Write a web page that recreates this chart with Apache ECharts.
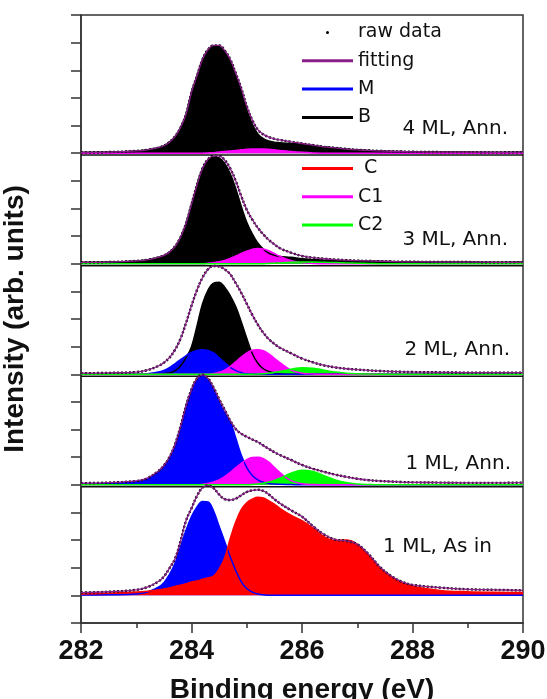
<!DOCTYPE html>
<html>
<head>
<meta charset="utf-8">
<script src="https://cdn.jsdelivr.net/npm/echarts@6/dist/echarts.min.js"></script>
<style>
  html, body { margin: 0; padding: 0; background: #fff; }
  #chart { width: 547px; height: 699px; }
</style>
</head>
<body>
<div id="chart"></div>
<script>
// binding energy grid (eV), denser around the peaks
const energy = [282.0, 282.5, 283.0, 283.2, 283.4, 283.5, 283.6, 283.7, 283.8, 283.9,
  284.0, 284.1, 284.2, 284.3, 284.4, 284.5, 284.6, 284.7, 284.8, 284.9,
  285.0, 285.1, 285.2, 285.3, 285.4, 285.5, 285.6, 285.8, 286.0, 286.2,
  286.4, 286.6, 286.8, 287.0, 287.2, 287.4, 287.6, 287.8, 288.0, 288.5,
  289.0, 289.5, 290.0];

// intensities in tick units above each panel's baseline
// 4 ML, Ann.
const fit4 = [0.03,0.04,0.08,0.12,0.2, 0.27,0.4,0.6,0.92,1.4, 2.2,2.8,3.4,3.75,3.9, 3.9,3.72,3.4,2.9,2.35, 1.7,1.2,0.85,0.68,0.58, 0.52,0.48,0.41,0.35,0.29, 0.23,0.19,0.15,0.12,0.1, 0.08,0.07,0.06,0.05,0.04, 0.04,0.03,0.04];
const b4 = [0.03,0.04,0.08,0.12,0.2, 0.27,0.4,0.6,0.92,1.4, 2.2,2.8,3.4,3.74,3.88, 3.86,3.66,3.32,2.8,2.23, 1.56,1.05,0.7,0.53,0.44, 0.4,0.38,0.35,0.32,0.28, 0.23,0.19,0.15,0.12,0.1, 0.08,0.07,0.06,0.05,0.04, 0.04,0.03,0.04];
const c1_4 = [0,0,0,0,0, 0,0,0,0,0, 0,0,0,0.01,0.02, 0.04,0.06,0.08,0.1,0.12, 0.14,0.15,0.15,0.15,0.14, 0.12,0.1,0.06,0.03,0.01, 0,0,0,0,0, 0,0,0,0,0, 0,0,0];
// 3 ML, Ann.
const fit3 = [0.05,0.06,0.1,0.14,0.23, 0.3,0.42,0.62,0.95,1.45, 2.15,2.85,3.45,3.78,3.9, 3.9,3.75,3.45,3.0,2.45, 1.95,1.6,1.3,1.06,0.86, 0.7,0.56,0.4,0.28,0.22, 0.18,0.15,0.13,0.11,0.1, 0.09,0.08,0.07,0.07,0.06, 0.06,0.05,0.06];
const b3 = [0.05,0.06,0.1,0.14,0.23, 0.3,0.42,0.62,0.95,1.45, 2.15,2.85,3.45,3.76,3.86, 3.83,3.63,3.26,2.72,2.08, 1.5,1.08,0.75,0.53,0.38, 0.31,0.26,0.23,0.18,0.15, 0.13,0.11,0.1,0.09,0.09, 0.09,0.08,0.07,0.07,0.06, 0.06,0.05,0.06];
const c1_3 = [0,0,0,0,0, 0,0,0,0,0, 0,0,0,0.02,0.04, 0.07,0.12,0.19,0.28,0.37, 0.45,0.52,0.55,0.53,0.47, 0.37,0.27,0.12,0.04,0.01, 0,0,0,0,0, 0,0,0,0,0, 0,0,0];
const c2_3 = [0,0,0,0,0, 0,0,0,0,0, 0,0,0,0,0, 0,0,0,0,0, 0,0,0,0,0.01, 0.02,0.03,0.05,0.06,0.06, 0.05,0.04,0.03,0.02,0.01, 0,0,0,0,0, 0,0,0];
// 2 ML, Ann.
const fit2 = [0.04,0.05,0.08,0.15,0.3, 0.42,0.6,0.88,1.28,1.85, 2.48,3.05,3.5,3.8,3.92, 3.9,3.8,3.62,3.3,2.95, 2.55,2.15,1.8,1.5,1.27, 1.1,0.96,0.76,0.57,0.43, 0.32,0.25,0.2,0.17,0.14, 0.12,0.1,0.09,0.08,0.07, 0.06,0.06,0.06];
const b2 = [0,0,0,0,0, 0.02,0.05,0.12,0.3,0.6, 1.0,1.75,2.55,3.05,3.3, 3.33,3.15,2.85,2.45,1.9, 1.3,0.75,0.4,0.2,0.1, 0.05,0.02,0,0,0, 0,0,0,0,0, 0,0,0,0,0, 0,0,0];
const m2 = [0,0,0,0.02,0.08, 0.14,0.24,0.38,0.53,0.67, 0.79,0.86,0.89,0.86,0.77, 0.6,0.42,0.25,0.13,0.06, 0.02,0.01,0,0,0, 0,0,0,0,0, 0,0,0,0,0, 0,0,0,0,0, 0,0,0];
const c1_2 = [0,0,0,0,0, 0,0,0,0,0, 0,0,0,0,0.03, 0.07,0.15,0.28,0.45,0.62, 0.77,0.87,0.89,0.85,0.74, 0.58,0.42,0.15,0.04,0.01, 0,0,0,0,0, 0,0,0,0,0, 0,0,0];
const c2_2 = [0,0,0,0,0, 0,0,0,0,0, 0,0,0,0,0, 0,0,0,0,0, 0,0,0.01,0.02,0.04, 0.07,0.1,0.18,0.24,0.22, 0.15,0.08,0.04,0.02,0.01, 0,0,0,0,0, 0,0,0];
// 1 ML, Ann.
const fit1 = [0.06,0.08,0.14,0.24,0.5, 0.7,1.0,1.45,2.1,2.85, 3.45,3.85,3.98,3.85,3.52, 3.1,2.72,2.33,2.02,1.85, 1.74,1.64,1.55,1.42,1.3, 1.18,1.08,0.9,0.72,0.58, 0.47,0.37,0.29,0.22,0.17, 0.14,0.12,0.1,0.09,0.08, 0.07,0.07,0.08];
const m1 = [0.03,0.05,0.12,0.22,0.48, 0.68,0.98,1.43,2.08,2.83, 3.43,3.83,3.95,3.8,3.45, 3.0,2.6,2.3,1.7,1.08, 0.62,0.34,0.18,0.09,0.05, 0.03,0.02,0.01,0,0, 0,0,0,0,0, 0,0,0,0,0, 0,0,0];
const c1_1 = [0,0,0,0,0, 0,0,0,0,0, 0,0,0.02,0.05,0.1, 0.18,0.3,0.45,0.62,0.78, 0.91,0.99,1.0,0.95,0.82, 0.63,0.44,0.15,0.04,0.01, 0,0,0,0,0, 0,0,0,0,0, 0,0,0];
const c2_1 = [0,0,0,0,0, 0,0,0,0,0, 0,0,0,0,0, 0,0,0,0,0, 0,0.01,0.03,0.06,0.1, 0.16,0.24,0.42,0.53,0.48, 0.33,0.18,0.08,0.03,0.01, 0,0,0,0,0, 0,0,0];
// 1 ML, As in
const fit0 = [0.1,0.13,0.2,0.3,0.5, 0.68,0.98,1.32,1.95,2.7, 3.15,3.6,3.9,3.98,3.88, 3.65,3.48,3.45,3.5,3.62, 3.74,3.8,3.82,3.78,3.65, 3.48,3.33,3.08,2.85,2.5, 2.2,2.02,1.97,1.85,1.5, 1.05,0.72,0.5,0.38,0.28, 0.22,0.2,0.18];
const m0 = [0.01,0.02,0.05,0.12,0.3, 0.46,0.75,1.15,1.75,2.35, 2.85,3.2,3.4,3.38,3.05, 2.5,1.95,1.4,0.9,0.5, 0.25,0.12,0.05,0.02,0, 0,0,0,0,0, 0,0,0,0,0, 0,0,0,0,0, 0,0,0];
const c0 = [0.05,0.08,0.12,0.15,0.2, 0.23,0.27,0.32,0.37,0.42, 0.48,0.52,0.58,0.63,0.7, 0.95,1.35,2.05,2.65,3.1, 3.35,3.48,3.55,3.52,3.42, 3.3,3.15,2.9,2.7,2.43, 2.12,1.98,2.0,1.85,1.45, 1.02,0.7,0.48,0.33,0.18, 0.13,0.11,0.1];

const offsets = [17, 13, 9, 5, 1];
const panelLabels = ['4 ML, Ann.', '3 ML, Ann.', '2 ML, Ann.', '1 ML, Ann.', '1 ML, As in'];
const legendTop = ['raw data', 'fitting', 'M', 'B'];
const legendBottom = ['C', 'C1', 'C2'];

const colors = {
  'raw data': '#000000', fitting: '#8a1f8a', M: '#0000ff', B: '#000000',
  C: '#ff0000', C1: '#ff00ff', C2: '#00ff00'
};

const panels = [
  { comps: [['B', b4], ['C1', c1_4]], fit: fit4 },
  { comps: [['B', b3], ['C1', c1_3], ['C2', c2_3]], fit: fit3 },
  { comps: [['B', b2], ['M', m2], ['C1', c1_2], ['C2', c2_2]], fit: fit2 },
  { comps: [['M', m1], ['C1', c1_1], ['C2', c2_1]], fit: fit1 },
  { comps: [['M', m0], ['C', c0]], fit: fit0 },
];

const series = [];
// panel separators
offsets.slice(0, 4).forEach((off) => {
  series.push({
    type: 'line', silent: true, symbol: 'none', z: 1,
    data: [[282, off - 0.07], [290, off - 0.07]],
    lineStyle: { color: '#111', width: 1.5 },
  });
});

panels.forEach((p, k) => {
  const off = offsets[k];
  p.comps.forEach(([name, vals]) => {
    series.push({
      name, type: 'line', smooth: 0.4, showSymbol: false, z: 2,
      data: energy.map((e, i) => [e, off + vals[i]]),
      itemStyle: { color: colors[name] },
      lineStyle: { color: colors[name], width: 1.5 },
      areaStyle: { color: colors[name], opacity: 1, origin: off },
    });
  });
  series.push({
    name: 'raw data', type: 'line', smooth: 0.4, showSymbol: false, z: 3,
    data: energy.map((e, i) => [e, off + p.fit[i]]),
    itemStyle: { color: colors['raw data'] },
    lineStyle: { color: '#000', width: 2.4, type: [2, 2] },
  });
  series.push({
    name: 'fitting', type: 'line', smooth: 0.4, showSymbol: false, z: 4,
    data: energy.map((e, i) => [e, off + p.fit[i]]),
    itemStyle: { color: colors.fitting },
    lineStyle: { color: colors.fitting, width: 1.3 },
  });
});

const labelPos = [[508, 129], [508, 240], [510, 350], [511, 464], [492, 547]];

const axisLine = { lineStyle: { color: '#333', width: 1.5 } };
const legendBase = {
  orient: 'vertical', left: 302, padding: 0, itemWidth: 51, itemHeight: 3, itemGap: 9.3,
  selectedMode: false,
  textStyle: { fontFamily: 'DejaVu Sans', fontSize: 19, lineHeight: 18, color: '#111' },
};

const chart = echarts.init(document.getElementById('chart'), null, { renderer: 'canvas' });
chart.setOption({
  animation: false,
  backgroundColor: '#fff',
  grid: {
    left: 81, right: 24, top: 15, bottom: 76, outerBoundsMode: 'none', containLabel: false,
    show: true, borderColor: '#333', borderWidth: 1.5,
  },
  xAxis: {
    type: 'value', min: 282, max: 290, interval: 2,
    axisLine, axisTick: { length: 10, lineStyle: { color: '#333', width: 1.5 } },
    minorTick: { show: true, splitNumber: 2, length: 5, lineStyle: { color: '#333', width: 1.5 } },
    splitLine: { show: false },
    axisLabel: { fontSize: 27, fontWeight: 'bold', color: '#111', fontFamily: 'Liberation Sans', margin: 15 },
    name: 'Binding energy (eV)', nameLocation: 'middle', nameGap: 53,
    nameTextStyle: { fontSize: 28, fontWeight: 'bold', color: '#111', fontFamily: 'Liberation Sans' },
  },
  yAxis: {
    type: 'value', min: 0, max: 22, interval: 1,
    axisLine: { show: true, lineStyle: { color: '#333', width: 1.5 } },
    axisTick: { show: true, length: 10, lineStyle: { color: '#333', width: 1.5 } },
    axisLabel: { show: false }, splitLine: { show: false },
    name: 'Intensity (arb. units)', nameLocation: 'middle', nameGap: 52,
    nameTextStyle: { fontSize: 28, fontWeight: 'bold', color: '#111', fontFamily: 'Liberation Sans' },
  },
  legend: [
    { ...legendBase, top: 23, data: legendTop.map((n) => ({ name: n, icon: n === 'raw data' ? 'circle' : 'rect' })) },
    { ...legendBase, top: 159, data: legendBottom.map((n) => ({ name: n, icon: 'rect' })),
      formatter: (n) => (n === 'C' ? ' C' : n) },
  ],
  graphic: panelLabels.map((t, k) => ({
    type: 'text', x: labelPos[k][0], y: labelPos[k][1], z: 10,
    style: {
      text: t, fill: '#111', font: '20px "DejaVu Sans"',
      textAlign: 'right', textVerticalAlign: 'middle', align: 'right', verticalAlign: 'middle',
    },
  })),
  series,
});
</script>
</body>
</html>
